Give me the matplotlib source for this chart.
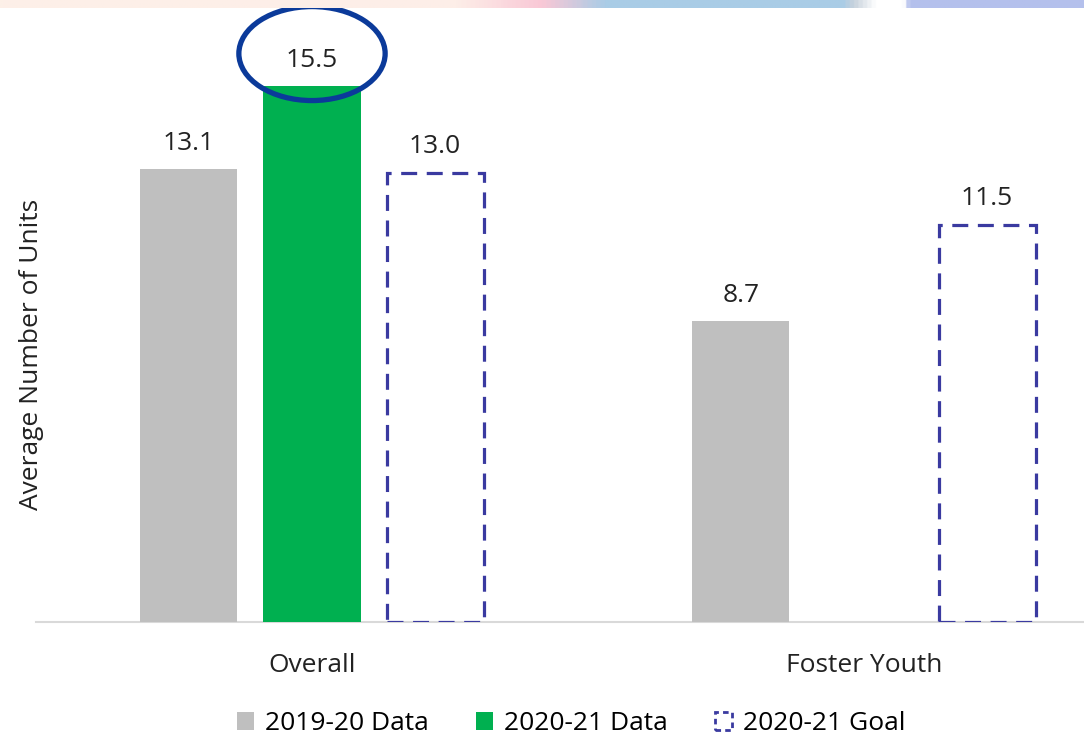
import numpy as np
import matplotlib.pyplot as plt
from matplotlib.patches import Patch, Ellipse
from matplotlib.colors import LinearSegmentedColormap

# ---------------- data ----------------
categories = ["Overall", "Foster Youth"]
series_names = ["2019-20 Data", "2020-21 Data", "2020-21 Goal"]
data_1920 = [13.1, 8.7]
data_2021 = [15.5, None]
goal_2021 = [13.0, 11.5]
# --------------------------------------

gray = "#bfbfbf"
green = "#00b050"
goal_col = "#3a3aa0"
ring_col = "#0b3a9a"
txt = "#222222"
fs = 19

plt.rcParams['font.family'] = ['Open Sans', 'DejaVu Sans']

fig = plt.figure(figsize=(10.84, 7.38), dpi=100)
ax = fig.add_axes([36 / 1084, 116 / 738, 1 - 36 / 1084, 622 / 738])

x = np.arange(len(categories))
w = 0.176
off = 0.223

# decorative strip along the top edge
strip = fig.add_axes([0, 1 - 8 / 738, 1, 8 / 738])
stops = [(0.0, "#fdf0e8"), (0.42, "#fdeee8"), (0.50, "#f9c8d6"), (0.56, "#a9cce6"),
         (0.78, "#a9cce6"), (0.79, "#c8d2dc"), (0.81, "#ffffff"), (0.835, "#ffffff"),
         (0.84, "#b4c0ec"), (1.0, "#b4c0ec")]
cmap = LinearSegmentedColormap.from_list("strip", stops)
strip.imshow(np.linspace(0, 1, 500)[None, :], aspect="auto", cmap=cmap)
strip.axis("off")

lbl_kw = dict(ha="center", va="bottom", fontsize=fs, color=txt)

for i, v in enumerate(data_1920):
    ax.bar(x[i] - off, v, width=w, color=gray, zorder=3)
    ax.text(x[i] - off, v + 0.4, f"{v:.1f}", **lbl_kw)

for i, v in enumerate(data_2021):
    if v is None:
        continue
    ax.bar(x[i], v, width=w, color=green, zorder=3)
    ax.text(x[i], v + 0.4, f"{v:.1f}", **lbl_kw)

for i, v in enumerate(goal_2021):
    ax.bar(x[i] + off, v, width=w, facecolor="none", edgecolor=goal_col,
           linewidth=2.3, linestyle=(0, (5, 3)), zorder=3)
    ax.text(x[i] + off, v + 0.4, f"{v:.1f}", **lbl_kw)

# highlight ring around the 2020-21 overall value
ax.add_patch(Ellipse((x[0], data_2021[0] + 0.95), 0.265, 2.72, facecolor="none",
                     edgecolor=ring_col, linewidth=3.8, clip_on=False, zorder=5))

ax.set_xlim(-0.5, (1084 - 312) / 552)
ax.set_ylim(0, 18)
ax.set_xticks(x)
ax.set_xticklabels(categories, fontsize=fs, color=txt)
ax.tick_params(axis="x", length=0, pad=22)
ax.set_yticks([])
for s in ["top", "right", "left"]:
    ax.spines[s].set_visible(False)
ax.spines["bottom"].set_color("#d9d9d9")
ax.spines["bottom"].set_linewidth(1.5)
ax.spines["bottom"].set_zorder(1)
ax.set_ylabel("Average Number of Units", fontsize=fs, color=txt)
ax.yaxis.set_label_coords(0.008, 0.43)

handles = [Patch(facecolor=gray, edgecolor="none"),
           Patch(facecolor=green, edgecolor="none"),
           Patch(facecolor="none", edgecolor=goal_col, linewidth=2, linestyle=(0, (2, 1.5)))]
fig.legend(handles, series_names, loc="lower center", bbox_to_anchor=(0.527, -0.03),
           ncol=3, frameon=False, fontsize=fs, handlelength=0.65, handleheight=0.65,
           handletextpad=0.4, columnspacing=1.8)

fig.savefig("out.png", dpi=100)
